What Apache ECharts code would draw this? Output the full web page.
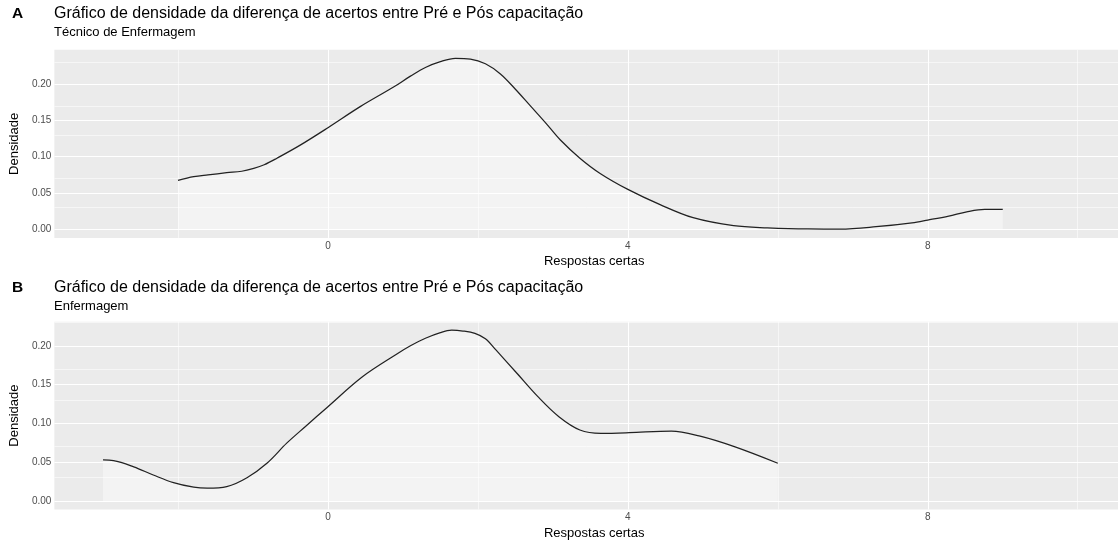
<!DOCTYPE html>
<html><head><meta charset="utf-8">
<script src="https://cdn.jsdelivr.net/npm/echarts@6/dist/echarts.min.js"></script>
<style>html,body{margin:0;padding:0;background:#fff}#c{width:1118px;height:543px}</style>
</head><body><div id="c"></div>
<script>
// Panel A: Técnico de Enfermagem
const xA = [-2.0,-1.79,-1.6,-1.35,-1.15,-0.99,-0.85,-0.68,-0.37,0.0,0.43,0.875,1.1,1.3,1.5,1.7,1.9,2.1,2.3,2.5,2.7,2.9,3.1,3.36,3.63,4.0,4.43,4.87,5.41,5.86,6.4,6.83,7.31,7.79,8.0,8.28,8.52,8.76,9.0];
const yA = [0.0675,0.0725,0.075,0.078,0.080,0.084,0.089,0.098,0.116,0.140,0.169,0.196,0.211,0.223,0.231,0.2355,0.2345,0.228,0.214,0.193,0.170,0.147,0.123,0.098,0.077,0.055,0.034,0.016,0.005,0.002,0.0005,0.0004,0.0036,0.009,0.0128,0.0183,0.0242,0.0275,0.0275];
// Panel B: Enfermagem
const xB = [-3.0,-2.86,-2.59,-2.33,-2.06,-1.79,-1.61,-1.35,-1.08,-0.81,-0.55,-0.3,0.0,0.46,0.93,1.1,1.3,1.5,1.65,1.8,1.96,2.1,2.24,2.52,2.80,3.08,3.36,3.64,4.02,4.58,4.95,5.42,6.0];
const yB = [0.0528,0.052,0.044,0.0335,0.0236,0.0177,0.0164,0.0185,0.030,0.049,0.0745,0.096,0.1215,0.160,0.190,0.200,0.2097,0.217,0.220,0.219,0.216,0.209,0.1946,0.1646,0.1344,0.1086,0.0915,0.0872,0.088,0.090,0.0838,0.070,0.0486];

const xTicks = [0,4,8];
const xMinor = [-2,2,6,10];
const yTicks = [0,0.05,0.10,0.15,0.20];
const yMinor = [0.025,0.075,0.125,0.175,0.225];

const mainTitle = 'Gráfico de densidade da diferença de acertos entre Pré e Pós capacitação';
const subA = 'Técnico de Enfermagem';
const subB = 'Enfermagem';
const xName = 'Respostas certas';
const yName = 'Densidade';

const FONT = '"Liberation Sans", Arial, sans-serif';
const chart = echarts.init(document.getElementById('c'), null, {renderer:'canvas'});

const grids = [
  {left:54, top:49.8, width:1064, height:188.1},
  {left:54, top:321.7, width:1064, height:187.8}
];
const yRanges = [[-0.0118,0.2473],[-0.011,0.231]];

function xAxis(i){
  return {type:'value', gridIndex:i, min:-3.649, max:10.537,
    name:xName, nameLocation:'middle', nameGap:17,
    nameTextStyle:{fontFamily:FONT,fontSize:13,color:'#000', padding:[0,0,0,16]},
    axisLine:{show:false},
    axisTick:{show:true, customValues:xTicks, length:2.75, lineStyle:{color:'#333',width:1}},
    axisLabel:{customValues:xTicks, fontFamily:FONT, fontSize:10, color:'#4d4d4d', margin:3, formatter:v=>String(v)},
    splitLine:{show:false}};
}
function yAxis(i){
  return {type:'value', gridIndex:i, min:yRanges[i][0], max:yRanges[i][1],
    name:yName, nameLocation:'middle', nameGap:28, nameRotate:90,
    nameTextStyle:{fontFamily:FONT,fontSize:13,color:'#000'},
    axisLine:{show:false},
    axisTick:{show:true, customValues:yTicks, length:2.75, lineStyle:{color:'#333',width:1}},
    axisLabel:{customValues:yTicks, fontFamily:FONT, fontSize:10, color:'#4d4d4d', margin:3, formatter:v=>v.toFixed(2)},
    splitLine:{show:false}};
}
function gridSeries(i){
  const data = [];
  yTicks.forEach(v=>data.push({yAxis:v, lineStyle:{width:1.1}}));
  yMinor.forEach(v=>data.push({yAxis:v, lineStyle:{width:0.55}}));
  xTicks.forEach(v=>data.push({xAxis:v, lineStyle:{width:1.1}}));
  xMinor.forEach(v=>data.push({xAxis:v, lineStyle:{width:0.55}}));
  return {type:'line', xAxisIndex:i, yAxisIndex:i, data:[], z:1, silent:true,
    markLine:{silent:true, z:1, symbol:['none','none'], label:{show:false},
      lineStyle:{color:'#ffffff', type:'solid'}, animation:false, data:data}};
}
function densitySeries(i, xs, ys){
  return {type:'line', xAxisIndex:i, yAxisIndex:i, z:3,
    data: xs.map((x,k)=>[x, ys[k]]),
    smooth:0.35, showSymbol:false, symbol:'none',
    lineStyle:{color:'#222', width:1.25},
    areaStyle:{color:'rgba(255,255,255,0.58)', origin:0},
    animation:false};
}

chart.setOption({
  backgroundColor:'#fff',
  animation:false,
  title:[
    {text:'A', left:12, top:6, textStyle:{fontFamily:FONT,fontSize:15.5,fontWeight:'bold',color:'#000'}},
    {text:mainTitle, left:54, top:5.5, textStyle:{fontFamily:FONT,fontSize:16,fontWeight:'normal',color:'#000'}},
    {text:subA, left:54, top:26, textStyle:{fontFamily:FONT,fontSize:13,fontWeight:'normal',color:'#000'}},
    {text:'B', left:12, top:280, textStyle:{fontFamily:FONT,fontSize:15.5,fontWeight:'bold',color:'#000'}},
    {text:mainTitle, left:54, top:279.5, textStyle:{fontFamily:FONT,fontSize:16,fontWeight:'normal',color:'#000'}},
    {text:subB, left:54, top:300, textStyle:{fontFamily:FONT,fontSize:13,fontWeight:'normal',color:'#000'}}
  ].map(t=>Object.assign({padding:0},t)),
  grid: grids.map(g=>Object.assign({show:true, backgroundColor:'#EBEBEB', borderWidth:0, containLabel:false}, g)),
  xAxis:[xAxis(0), xAxis(1)],
  yAxis:[yAxis(0), yAxis(1)],
  series:[gridSeries(0), gridSeries(1), densitySeries(0,xA,yA), densitySeries(1,xB,yB)]
});
</script></body></html>
